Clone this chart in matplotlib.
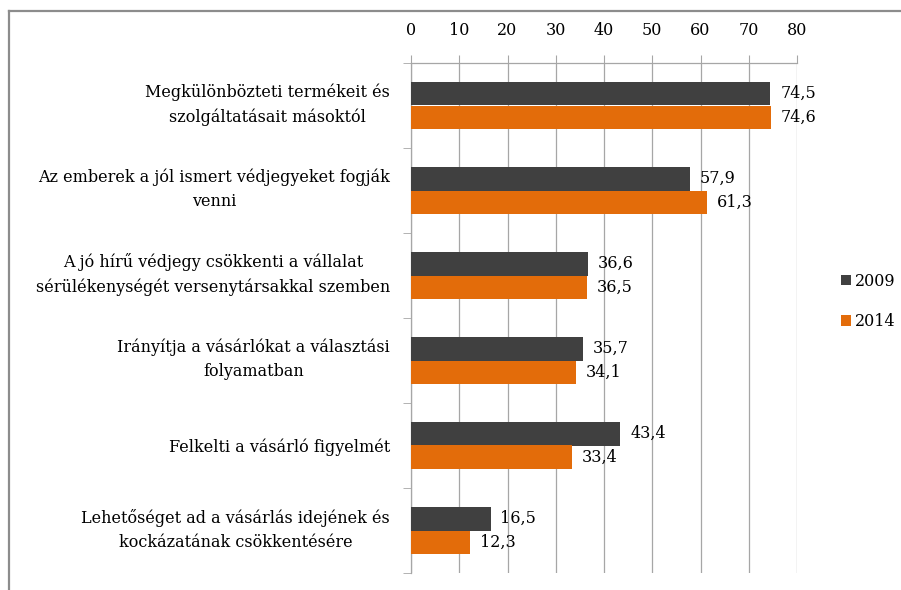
import matplotlib
matplotlib.use("Agg")
import matplotlib.pyplot as plt
from matplotlib.lines import Line2D
import numpy as np

categories = [
    "Megkülönbözteti termékeit és\nszolgáltatásait másoktól",
    "Az emberek a jól ismert védjegyeket fogják\nvenni",
    "A jó hírű védjegy csökkenti a vállalat\nsérülékenységét versenytársakkal szemben",
    "Irányítja a vásárlókat a választási\nfolyamatban",
    "Felkelti a vásárló figyelmét",
    "Lehetőséget ad a vásárlás idejének és\nkockázatának csökkentésére",
]
values_2009 = [74.5, 57.9, 36.6, 35.7, 43.4, 16.5]
values_2014 = [74.6, 61.3, 36.5, 34.1, 33.4, 12.3]
series_names = ["2009", "2014"]
x_ticks = [0, 10, 20, 30, 40, 50, 60, 70, 80]

c2009 = "#404040"
c2014 = "#E36C0A"
gridc = "#A6A6A6"
plt.rcParams["font.family"] = ["DejaVu Serif"]
fs = 11.5

fig = plt.figure(figsize=(9.01, 5.90), dpi=100)
ax = fig.add_axes([411/901, 1-573/590, (797-411)/901, (573-63)/590])

n = len(categories)
y = np.arange(n)
h = 0.28
b1 = ax.barh(y - h/2, values_2009, height=h, color=c2009, label=series_names[0], zorder=3)
b2 = ax.barh(y + h/2, values_2014, height=h, color=c2014, label=series_names[1], zorder=3)

def fmt(v):
    return f"{v:.1f}".replace(".", ",")

for bars, vals in ((b1, values_2009), (b2, values_2014)):
    for rect, v in zip(bars, vals):
        ax.annotate(fmt(v), (v, rect.get_y() + rect.get_height()/2),
                    xytext=(7, 0), textcoords="offset points",
                    ha="left", va="center", fontsize=fs, color="black")

ax.set_xlim(0, 80)
ax.set_ylim(n - 0.5, -0.5)
ax.set_xticks(x_ticks)
ax.set_xticklabels([str(t) for t in x_ticks])
ax.xaxis.tick_top()
ax.tick_params(axis="x", which="major", length=6, color=gridc, pad=11,
               labelsize=fs, top=True, bottom=False)
ax.grid(axis="x", color=gridc, linewidth=0.9, zorder=0)

# category labels
ax.set_yticks([])
ax.set_yticks(np.arange(-0.5, n, 1.0), minor=True)
ax.tick_params(axis="y", which="minor", length=6, color=gridc)
trans = ax.get_yaxis_transform()
for yi, lab in zip(y, categories):
    dy = 0.6 if "\n" in lab else -1.5
    ax.annotate(lab, (0, yi), xycoords=trans, xytext=(-15, dy),
                textcoords="offset points", ha="right", va="center",
                multialignment="center", linespacing=1.55, fontsize=fs,
                annotation_clip=False)

for s in ("right", "bottom"):
    ax.spines[s].set_visible(False)
for s in ("left", "top"):
    ax.spines[s].set_color(gridc)
    ax.spines[s].set_linewidth(0.9)

leg = fig.legend(handles=[b1, b2], labels=series_names, loc="upper left",
                 bbox_to_anchor=(833/901, 1-265/590), frameon=False,
                 fontsize=fs, handlelength=0.6, handleheight=0.6,
                 handletextpad=0.3, labelspacing=1.45, borderpad=0)

# outer frame (top and left visible)
fig.add_artist(Line2D([8.5/901, 1.0], [1-10.5/590, 1-10.5/590],
                      transform=fig.transFigure, color="#8C8C8C", linewidth=1.6))
fig.add_artist(Line2D([8.5/901, 8.5/901], [0, 1-10.5/590],
                      transform=fig.transFigure, color="#8C8C8C", linewidth=1.6))

fig.savefig("out.png", dpi=100, facecolor="white")
